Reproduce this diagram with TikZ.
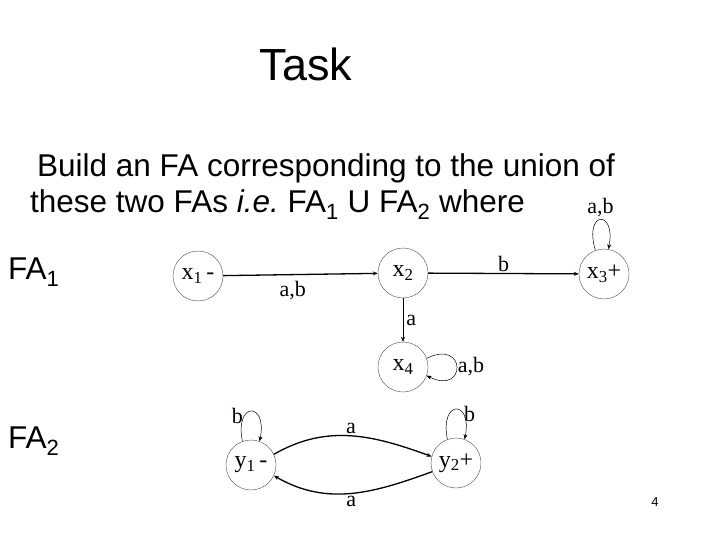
\documentclass[tikz,border=0pt]{standalone}
\usepackage{fontspec}
\setmainfont{Liberation Sans}
\newfontfamily\tms{Liberation Serif}
\usetikzlibrary{arrows.meta}
\begin{document}
\begin{tikzpicture}[x=1pt,y=-1pt,
 st/.style={circle,draw=black!70,line width=0.4pt,minimum size=50pt,inner sep=0pt,font=\tms\fontsize{24}{24}\selectfont},
 tr/.style={line width=1.3pt,-{Stealth[length=5pt,width=4pt]}},
 lp/.style={line width=0.5pt,-{Stealth[length=5pt,width=4pt]}},
 lb/.style={font=\tms\fontsize{22}{22}\selectfont,inner sep=0pt},
 body/.style={anchor=west,font=\fontsize{31.5}{31.5}\selectfont,inner sep=0pt}]
\useasboundingbox[fill=white] (0,0) rectangle (720,540);
\node[font=\fontsize{45}{45}\selectfont] (title) at (306,64) {Task};
\node[body] (l1) at (37,168) {Build an FA corresponding to the union of};
\node[body] (l2) at (30,205) {these two FAs \textit{i.e.}\ FA\textsubscript{1} U FA\textsubscript{2} where};
\node[body] (fa1) at (8,272) {FA\textsubscript{1}};
\node[body] (fa2) at (8,441) {FA\textsubscript{2}};
\node[font=\fontsize{13}{13}\selectfont] (pg) at (655,502) {4};
\node[st] (x1) at (198,276) {x\textsubscript{1}\,-};
\node[st] (x2) at (403,273) {x\textsubscript{2}};
\node[st] (x3) at (604,274) {x\textsubscript{3}+};
\node[st] (x4) at (403,367) {x\textsubscript{4}};
\node[st] (y1) at (251,465) {y\textsubscript{1}\,-};
\node[st] (y2) at (456,463) {y\textsubscript{2}+};
\draw[tr] (x1) -- (x2) node[lb,pos=0.45,below=6pt] {a,b};
\draw[tr] (x2) -- (x3) node[lb,pos=0.5,above=1pt] {b};
\draw[lp] (x2) -- (x4) node[lb,pos=0.5,right=3pt] {a};
\draw[lp] (x3.110) .. controls +(-12,-40) and +(8,-40) .. (x3.80) node[lb,pos=0.5,above=3pt] {a,b};
\draw[lp] (x4.20) .. controls +(40,-20) and +(40,20) .. (x4.-20) node[lb,pos=0.5,right=1pt] {a,b};
\draw[lp] (y1.110) .. controls +(-8,-40) and +(8,-40) .. (y1.70) node[lb,pos=0.3,left=1pt] {b};
\draw[lp] (y2.110) .. controls +(-8,-40) and +(8,-40) .. (y2.70) node[lb,pos=0.7,right=1pt] {b};
\draw[tr] (y1.25) to[out=30,in=160] node[lb,above=2pt] {a} (y2.165);
\draw[tr] (y2.200) to[out=200,in=-30] node[lb,below=2pt] {a} (y1.-25);
\end{tikzpicture}
\end{document}
